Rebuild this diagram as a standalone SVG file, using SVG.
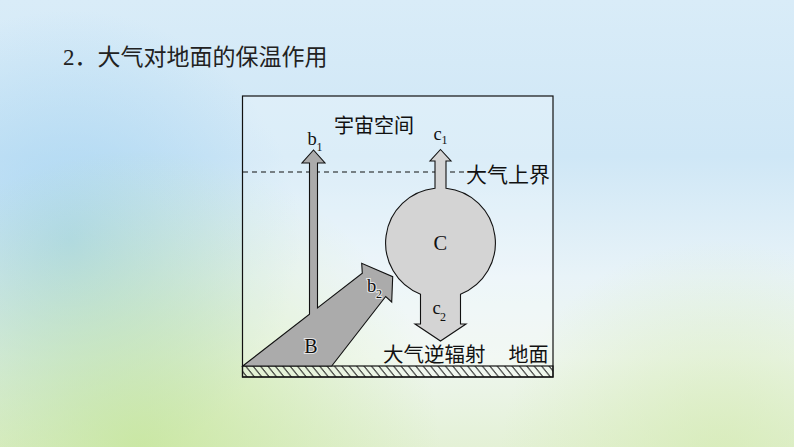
<svg xmlns="http://www.w3.org/2000/svg" width="794" height="447" viewBox="0 0 794 447">
  <style>
    .cjk { font-family: "Noto Sans CJK SC", sans-serif; fill: #111; }
    .lat { font-family: "Liberation Serif", "Times New Roman", serif; fill: #111; }
    .halo { stroke: #ffffff; stroke-width: 2; stroke-opacity: 0.7; paint-order: stroke; }
    .shape { stroke: #111; stroke-width: 1.1; stroke-linejoin: miter; }
  </style>
  <defs>
    <linearGradient id="sky" x1="0" y1="0" x2="0" y2="1">
      <stop offset="0" stop-color="#d9ecf8"/>
      <stop offset="0.35" stop-color="#cfe7f6"/>
      <stop offset="0.62" stop-color="#e8f3f8"/>
      <stop offset="0.8" stop-color="#eef6ef"/>
      <stop offset="1" stop-color="#e4f1d6"/>
    </linearGradient>
    <radialGradient id="blueBlob" cx="70" cy="240" r="230" gradientUnits="userSpaceOnUse">
      <stop offset="0" stop-color="#a6d4f2" stop-opacity="0.9"/>
      <stop offset="1" stop-color="#a6d4f2" stop-opacity="0"/>
    </radialGradient>
    <radialGradient id="grassL" cx="140" cy="450" r="300" gradientUnits="userSpaceOnUse">
      <stop offset="0" stop-color="#c4e597" stop-opacity="0.8"/>
      <stop offset="1" stop-color="#c4e597" stop-opacity="0"/>
    </radialGradient>
    <radialGradient id="grassR" cx="720" cy="460" r="220" gradientUnits="userSpaceOnUse">
      <stop offset="0" stop-color="#d3eab0" stop-opacity="0.7"/>
      <stop offset="1" stop-color="#d3eab0" stop-opacity="0"/>
    </radialGradient>
    <pattern id="hatch" width="7.4" height="20" patternUnits="userSpaceOnUse" patternTransform="skewX(39)">
      <line x1="1" y1="0" x2="1" y2="20" stroke="#111" stroke-width="1.2"/>
    </pattern>
  </defs>

  <!-- background -->
  <rect x="0" y="0" width="794" height="447" fill="url(#sky)"/>
  <rect x="0" y="0" width="794" height="447" fill="url(#blueBlob)"/>
  <rect x="0" y="0" width="794" height="447" fill="url(#grassL)"/>
  <rect x="0" y="0" width="794" height="447" fill="url(#grassR)"/>

  <!-- title -->
  <text x="63" y="65" font-size="23" style="font-family: 'Liberation Serif', 'Noto Sans CJK SC', serif; fill:#222;">2．大气对地面的保温作用</text>

  <!-- frame -->
  <g id="frame">
    <rect x="242.5" y="96" width="310.5" height="281" fill="#ffffff" fill-opacity="0.25" stroke="#111" stroke-width="1.2"/>
  </g>

  <!-- ground -->
  <g id="ground">
    <rect x="242.5" y="366" width="310.5" height="11" fill="url(#hatch)" stroke="#111" stroke-width="1.2"/>
    <text class="cjk" x="508.5" y="362" font-size="20">地面</text>
  </g>

  <!-- atmosphere upper boundary -->
  <g id="boundary">
    <line x1="243" y1="172" x2="464" y2="172" stroke="#111" stroke-width="1.2" stroke-dasharray="5 4"/>
    <text class="cjk" x="466" y="182" font-size="21">大气上界</text>
  </g>

  <g id="space-label">
    <text class="cjk" x="334" y="133" font-size="20">宇宙空间</text>
  </g>

  <!-- ground radiation B with branches b1 and b2 -->
  <g id="ground-radiation-B">
    <path class="shape" fill="#ababab" d="M242.7,366 L309.5,314.2 L309.5,163 L302,163 L313.5,150 L325,163 L317.5,163 L317.5,308 L362.3,273.3 L361.7,263.3 L392.7,276.7 L391.7,302 L385.7,296.5 L331.7,366 Z"/>
    <text class="lat halo" x="311" y="353" font-size="20" text-anchor="middle">B</text>
    <text class="lat" x="307.5" y="145" font-size="18.5">b</text>
    <text class="lat" x="316.5" y="151" font-size="12">1</text>
    <text class="lat halo" x="367" y="291.5" font-size="18.5">b</text>
    <text class="lat halo" x="376" y="298" font-size="12">2</text>
  </g>

  <!-- atmosphere C with c1 and c2 -->
  <g id="atmosphere-C">
    <path class="shape" fill="#d4d4d4" d="M440.5,149.5 L451,161 L446,161 L446,188.3 A55,55 0 0 1 460.5,294.2 L460.5,324 L466,324 L440.5,341 L415,324 L420.5,324 L420.5,294.2 A55,55 0 0 1 435,188.3 L435,161 L430,161 Z"/>
    <text class="lat" x="440.3" y="250" font-size="20.5" text-anchor="middle">C</text>
    <text class="lat" x="433.5" y="139.5" font-size="18.5">c</text>
    <text class="lat" x="441.5" y="144" font-size="12">1</text>
    <text class="lat" x="432.5" y="314" font-size="18.5">c</text>
    <text class="lat" x="440" y="320.5" font-size="12">2</text>
  </g>

  <g id="counter-radiation-label">
    <text class="cjk" x="383" y="362" font-size="20.5">大气逆辐射</text>
  </g>
</svg>
